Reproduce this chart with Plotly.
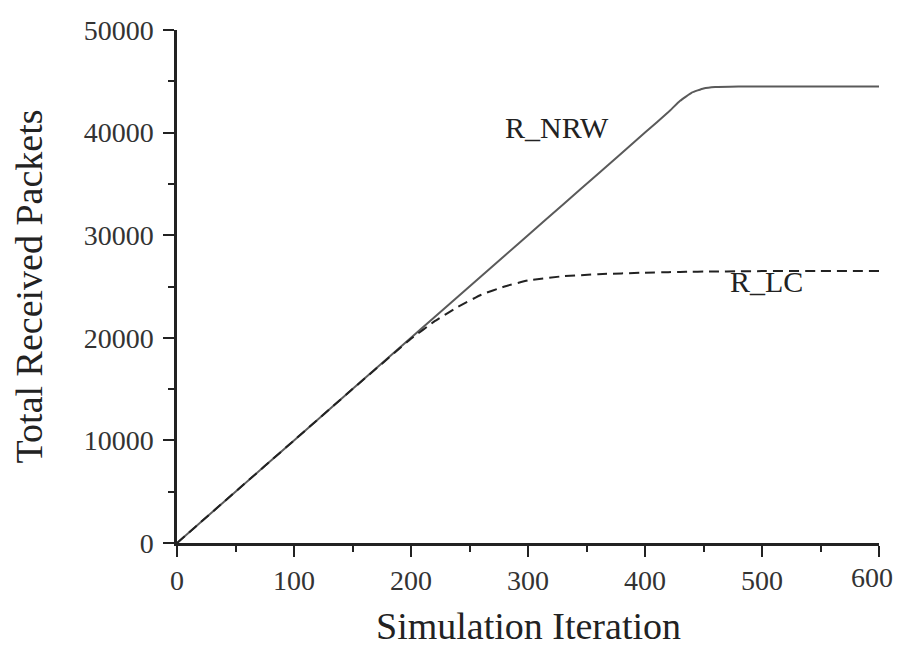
import plotly.graph_objects as go

iterations = [0, 50, 100, 150, 200, 220, 240, 260, 280, 300, 330, 360, 400, 420, 430, 440, 450, 460, 480, 500, 550, 600]
r_nrw = [0, 5000, 10000, 15000, 20000, 22000, 24000, 26000, 28000, 30000, 33000, 36000, 40000, 42000, 43100, 43900, 44300, 44450, 44500, 44500, 44500, 44500]
r_lc = [0, 5000, 10000, 15000, 19900, 21600, 23000, 24200, 25000, 25600, 26000, 26200, 26350, 26400, 26420, 26440, 26450, 26460, 26480, 26500, 26500, 26500]

x_ticks = [0, 100, 200, 300, 400, 500, 600]
x_tick_text = ["0", "100", "200", "300", "400", "500", "600"]
y_ticks = [0, 10000, 20000, 30000, 40000, 50000]
y_tick_text = ["0", "10000", "20000", "30000", "40000", "50000"]

label_nrw = ("R_NRW", 325, 40500)
label_lc = ("R_LC", 504, 25500)

font_family = "Liberation Serif, Times New Roman, serif"
ink = "#222222"
tick_font = dict(family=font_family, size=28, color="#333333")

fig = go.Figure()
fig.add_trace(go.Scatter(x=iterations, y=r_nrw, mode="lines", name="R_NRW",
                         line=dict(color="#5a5a5a", width=2, shape="spline", smoothing=0.3)))
fig.add_trace(go.Scatter(x=iterations, y=r_lc, mode="lines", name="R_LC",
                         line=dict(color=ink, width=2, dash="10px,6px", shape="spline", smoothing=0.3)))

for text, lx, ly in (label_nrw, label_lc):
    fig.add_annotation(x=lx, y=ly, text=text, showarrow=False,
                       font=dict(family=font_family, size=30, color=ink))

# last x tick label drawn as annotation so it is not clipped at the page edge
fig.add_annotation(x=x_ticks[-1], y=0, yref="paper", yanchor="top", xanchor="center",
                   text=x_tick_text[-1], showarrow=False, xshift=-7, yshift=-17,
                   font=tick_font)

# x axis title placed explicitly so it is not cut at the bottom edge
fig.add_annotation(x=0.5, xref="paper", y=0, yref="paper", yanchor="top", xanchor="center",
                   text="Simulation Iteration", showarrow=False, yshift=-60,
                   font=dict(family=font_family, size=38, color=ink))

axis_common = dict(
    showgrid=False, zeroline=False, showline=True, linecolor=ink, linewidth=2.5,
    ticks="outside", ticklen=11, tickwidth=2, tickcolor=ink,
    tickfont=tick_font,
    minor=dict(ticks="outside", ticklen=6, tickwidth=2, tickcolor=ink),
    automargin=False, ticklabeloverflow="allow",
)

fig.update_xaxes(range=[0, 600], tickvals=x_ticks, ticktext=x_tick_text[:-1] + [""], minor_dtick=50, ticklabelstandoff=0,
                 **axis_common)
fig.update_yaxes(range=[0, 50000], tickvals=y_ticks, ticktext=y_tick_text, minor_dtick=5000, ticklabelstandoff=4,
                 title=dict(text="Total Received Packets", font=dict(family=font_family, size=38, color=ink), standoff=46),
                 **axis_common)

fig.update_layout(width=901, height=646, showlegend=False,
                  plot_bgcolor="white", paper_bgcolor="white",
                  margin=dict(l=169, r=30, t=22, b=111))

fig.write_html("out.html")
